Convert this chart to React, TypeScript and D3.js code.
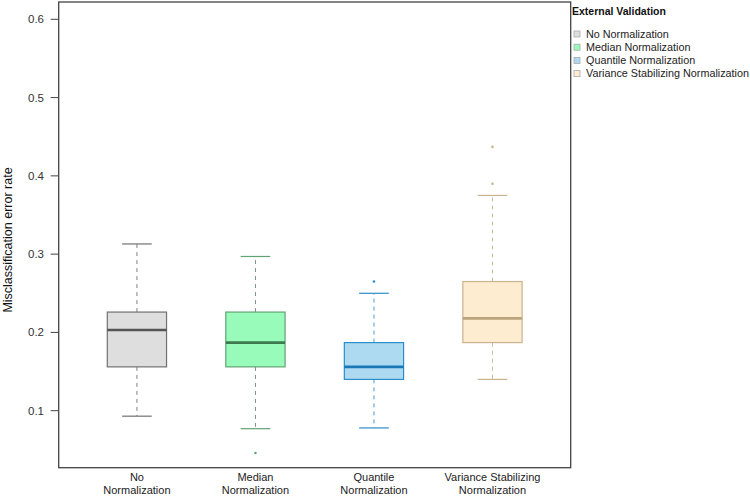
import React from "react";
import * as d3 from "d3";

const categories = ["No Normalization", "Median Normalization", "Quantile Normalization", "Variance Stabilizing Normalization"];
const axisLabels = [["No", "Normalization"], ["Median", "Normalization"], ["Quantile", "Normalization"], ["Variance Stabilizing", "Normalization"]];
const lowerWhisker = [0.093, 0.077, 0.078, 0.140];
const q1 = [0.156, 0.156, 0.140, 0.187];
const medians = [0.203, 0.187, 0.156, 0.218];
const q3 = [0.226, 0.226, 0.187, 0.265];
const upperWhisker = [0.313, 0.297, 0.250, 0.375];
const outliers = [[], [0.046], [0.265], [0.390, 0.437]];
const yTicks = [0.1, 0.2, 0.3, 0.4, 0.5, 0.6];

const fills = ["#dedede", "#99fbb9", "#aedaf1", "#fdecd0"];
const strokes = ["#707070", "#62a374", "#2b8dc9", "#c9b38d"];
const whiskerStrokes = ["#808080", "#7f8f84", "#4a9ccc", "#cbb898"];
const medStrokes = ["#555555", "#3f7a4f", "#1a78b6", "#b9a47c"];

export default function App() {
  const left = 58.7, right = 570.7, top = 2, bottom = 467.7;
  const y = d3.scaleLinear().domain([0.1, 0.6]).range([410.7, 19.3]);
  const x = d3.scaleLinear().domain([0.34, 4.66]).range([left, right]);
  const bw = x(1.25) - x(1);
  const cw = x(1.125) - x(1);
  const font = "Arial, 'Liberation Sans', sans-serif";
  return (
    <div style={{ position: "fixed", left: 0, top: 0 }}>
      <svg width={750} height={497} style={{ display: "block", background: "#fff" }} fontFamily={font}>
        {categories.map((c, i) => {
          const cx = x(i + 1);
          return (
            <g key={c}>
              <line x1={cx} x2={cx} y1={y(q3[i])} y2={y(upperWhisker[i])} stroke={whiskerStrokes[i]} strokeWidth={1} strokeDasharray="4,4" />
              <line x1={cx} x2={cx} y1={y(q1[i])} y2={y(lowerWhisker[i])} stroke={whiskerStrokes[i]} strokeWidth={1} strokeDasharray="4,4" />
              <line x1={cx - cw} x2={cx + cw} y1={y(upperWhisker[i])} y2={y(upperWhisker[i])} stroke={strokes[i]} strokeWidth={1.2} />
              <line x1={cx - cw} x2={cx + cw} y1={y(lowerWhisker[i])} y2={y(lowerWhisker[i])} stroke={strokes[i]} strokeWidth={1.2} />
              <rect x={cx - bw} width={2 * bw} y={y(q3[i])} height={y(q1[i]) - y(q3[i])} fill={fills[i]} stroke={strokes[i]} strokeWidth={1.2} />
              <line x1={cx - bw} x2={cx + bw} y1={y(medians[i])} y2={y(medians[i])} stroke={medStrokes[i]} strokeWidth={2.6} />
              {outliers[i].map((o, j) => (
                <circle key={j} cx={cx} cy={y(o)} r={1.3} fill={strokes[i]} />
              ))}
              {axisLabels[i].map((t, j) => (
                <text key={j} x={cx} y={481 + j * 13} textAnchor="middle" fontSize={11} fill="#222">{t}</text>
              ))}
            </g>
          );
        })}
        <rect x={left} y={top} width={right - left} height={bottom - top} fill="none" stroke="#444" strokeWidth={1.3} />
        {yTicks.map((t) => (
          <g key={t}>
            <line x1={left - 8} x2={left} y1={y(t)} y2={y(t)} stroke="#444" strokeWidth={1} />
            <text x={44} y={y(t)} dy="0.35em" textAnchor="end" fontSize={11.5} fill="#333">{d3.format(".1f")(t)}</text>
          </g>
        ))}
        <text transform={`translate(12,${240}) rotate(-90)`} textAnchor="middle" fontSize={12.5} fill="#111">Misclassification error rate</text>
        <text x={572} y={15} fontSize={10.5} fontWeight="bold" fill="#111">External Validation</text>
        {categories.map((c, i) => (
          <g key={c}>
            <rect x={574} y={31 + i * 13.2} width={6} height={6} fill={fills[i]} stroke="#aaa" strokeWidth={0.8} />
            <text x={586} y={34 + i * 13.2} dy="0.35em" fontSize={10.8} fill="#222">{c}</text>
          </g>
        ))}
      </svg>
    </div>
  );
}
